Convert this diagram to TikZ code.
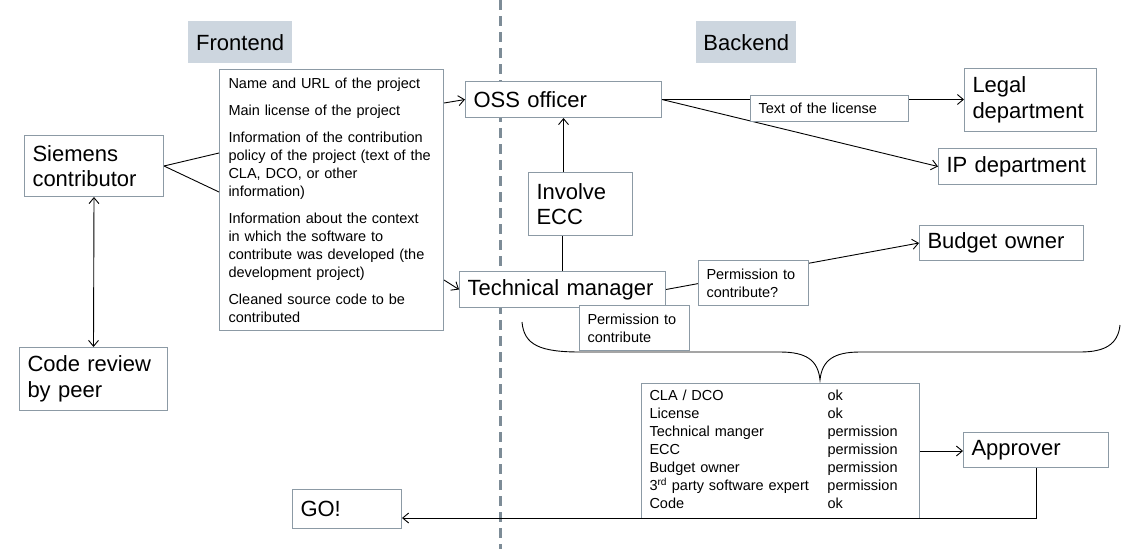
\documentclass[tikz,border=0pt]{standalone}
\usepackage{fontspec}
\setmainfont{Liberation Sans}
\usetikzlibrary{arrows.meta}
\definecolor{boxgray}{HTML}{8C9AA5}
\definecolor{labelbg}{HTML}{CDD6DF}
\definecolor{dashgray}{HTML}{7D8C97}
\tikzset{
  box/.style={draw=boxgray, line width=1pt, fill=white, anchor=north west,
    inner xsep=8pt, inner ysep=0pt, align=left},
  bigbox/.style={box, font=\fontsize{22}{25.5}\selectfont},
  smallbox/.style={box, font=\fontsize{14.5}{18}\selectfont},
  header/.style={fill=labelbg, anchor=north west, inner sep=0pt,
    font=\fontsize{22}{25.5}\selectfont},
  conn/.style={line width=0.9pt, black},
  arr/.style={conn, -{Straight Barb[length=6pt,width=10pt]}},
  dblarr/.style={conn, {Straight Barb[length=6pt,width=10pt]}-{Straight Barb[length=6pt,width=10pt]}},
  separator/.style={dashgray, line width=3pt, dash pattern=on 10pt off 6pt},
  bracestyle/.style={line width=0.9pt, black}
}
\begin{document}
\begin{tikzpicture}[x=1pt,y=-1pt]
\useasboundingbox (0,0) rectangle (1143,549);
% separator
\coordinate (septop) at (500,0);
\coordinate (sepbot) at (500,549);
\draw[separator] (septop) -- (sepbot);
% headers
\node[header, minimum width=104pt, minimum height=42pt] (front) at (188,21) {Frontend};
\node[header, minimum width=100pt, minimum height=42pt] (back) at (696,21) {Backend};
% frontend boxes
\node[bigbox, text width=123pt, minimum height=61pt] (siemens) at (24,135) {Siemens\\contributor};
\node[smallbox, inner xsep=9pt, text width=206pt, minimum height=261pt] (info) at (219,69)
  {Name and URL of the project\\[9pt]
   Main license of the project\\[9pt]
   Information of the contribution\\policy of the project (text of the\\CLA, DCO, or other\\information)\\[9pt]
   Information about the context\\in which the software to\\contribute was developed (the\\development project)\\[9pt]
   Cleaned source code to be\\contributed};
\node[bigbox, text width=132pt, minimum height=63pt] (code) at (19,347) {Code review\\by peer};
\node[bigbox, text width=93pt, minimum height=39pt] (go) at (292,489) {GO!};
% backend boxes
\node[bigbox, text width=180pt, minimum height=36pt] (oss) at (465,81) {OSS officer};
\node[bigbox, text width=190pt, minimum height=36pt] (tm) at (459,271) {Technical manager};
\node[bigbox, text width=88pt, minimum height=63pt] (ecc) at (528,172) {Involve\\ECC};
\node[bigbox, text width=116pt, minimum height=63pt] (legal) at (964,68) {Legal\\department};
\node[bigbox, text width=142pt, minimum height=36pt] (ip) at (938,148) {IP department};
\node[bigbox, text width=148pt, minimum height=35pt] (budget) at (919,225) {Budget owner};
\node[bigbox, text width=129pt, minimum height=35pt] (approver) at (963,432) {Approver};
% connectors
\draw[conn] (siemens.east) -- ([yshift=-84pt]info.north west);
\draw[conn] (siemens.east) -- ([yshift=-123pt]info.north west);
\draw[dblarr] (siemens.south) -- (code.north);
\draw[arr] ([yshift=-34pt]info.north east) -- (oss.west);
\draw[arr] ([yshift=-211pt]info.north east) -- (tm.west);
\draw[conn] (tm.north) -- (tm.north |- ecc.south);
\draw[arr] (oss.south |- ecc.north) -- (oss.south);
\draw[arr] (oss.east) -- (oss.east -| legal.west);
\draw[arr] (oss.east) -- (ip.west);
\draw[arr] (tm.east) -- (budget.west);
% label boxes
\node[smallbox, text width=142pt, minimum height=26pt] (license) at (750,95) {Text of the license};
\node[smallbox, text width=94pt, minimum height=45pt] (permq) at (698,260) {Permission to\\contribute?};
\node[smallbox, text width=94pt, minimum height=45pt] (permb) at (579,305) {Permission to\\contribute};
% brace
\draw[bracestyle] (522,322) .. controls (524,345) and (540,352) .. (580,352)
  -- (780,352) .. controls (806,352) and (818,360) .. (820,380)
  .. controls (822,360) and (834,352) .. (860,352)
  -- (1080,352) .. controls (1104,352) and (1118,345) .. (1120,325);
% checklist
\node[smallbox, text width=262pt, minimum height=135pt] (table) at (641,383)
  {\begin{tabular}{@{}p{178pt}@{}l@{}}
   CLA / DCO & ok\\
   License & ok\\
   Technical manger & permission\\
   ECC & permission\\
   Budget owner & permission\\
   3\textsuperscript{rd} party software expert & permission\\
   Code & ok
   \end{tabular}};
\draw[arr] (table.east) -- (table.east -| approver.west);
\draw[arr] (approver.south) |- ([yshift=-29pt]go.north east);
\end{tikzpicture}
\end{document}
